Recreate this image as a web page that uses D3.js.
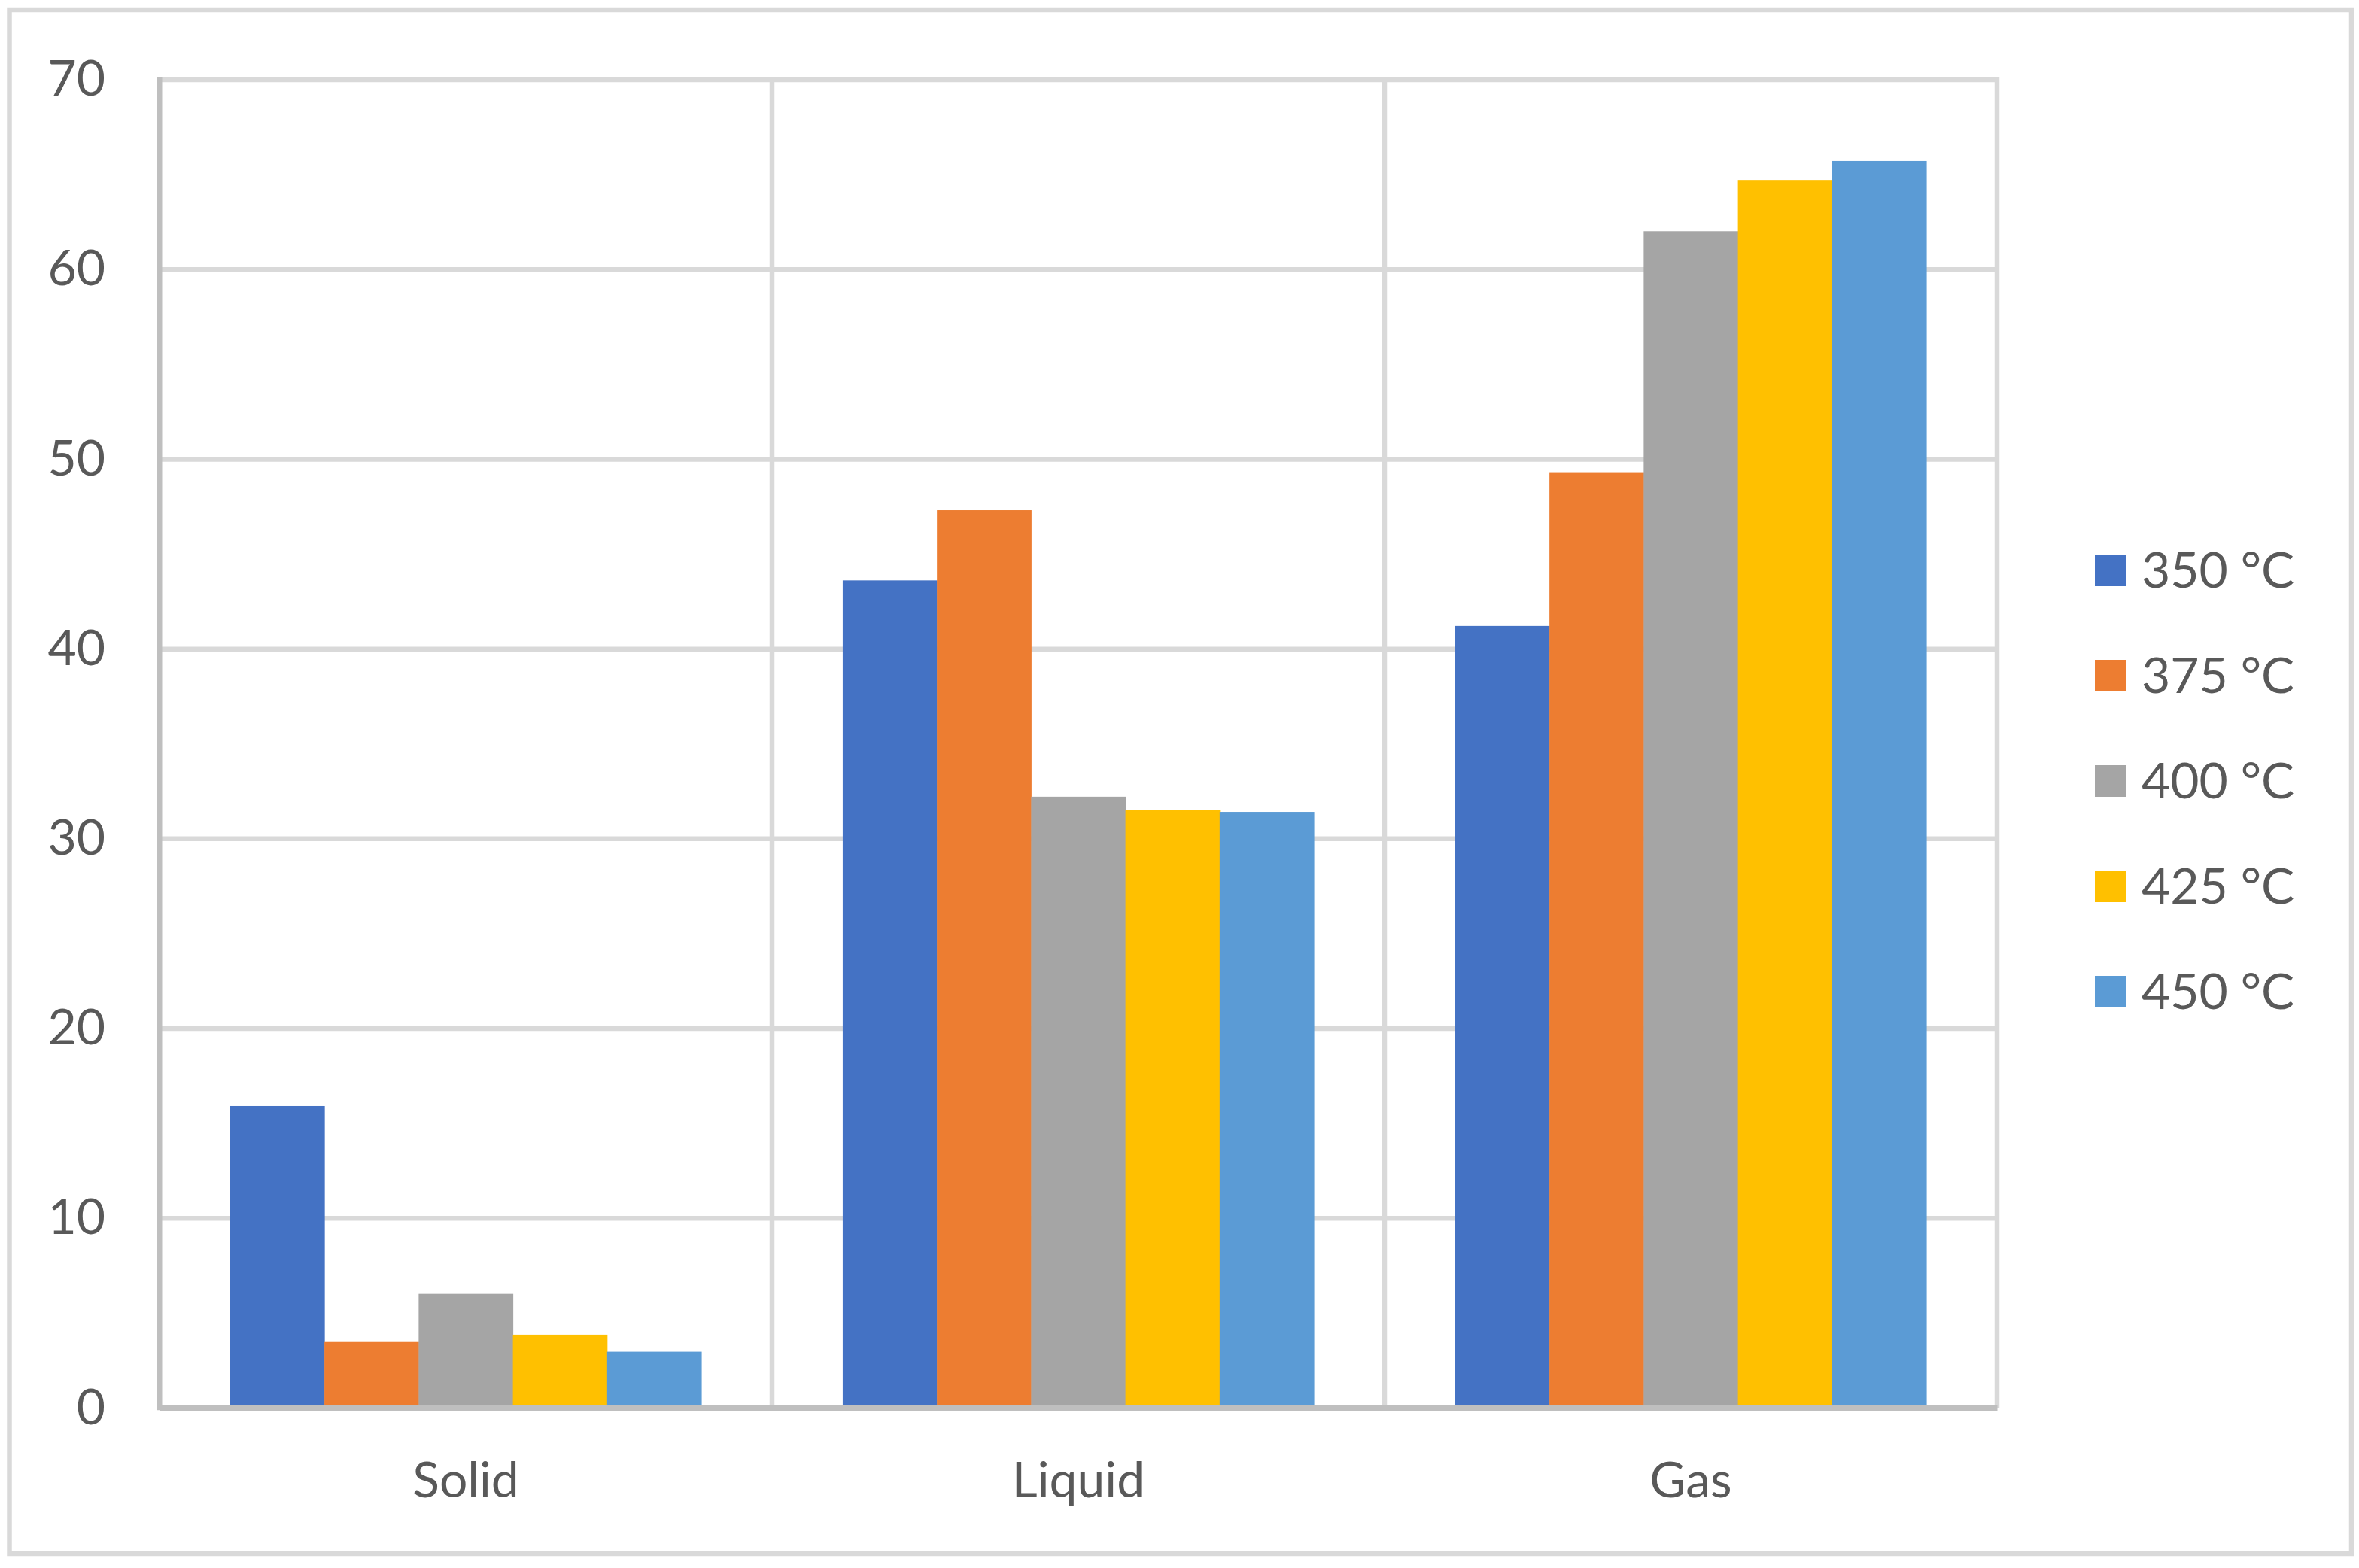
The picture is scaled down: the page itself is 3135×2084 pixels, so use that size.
<!DOCTYPE html>
<html>
<head>
<meta charset="utf-8">
<script src="https://cdn.jsdelivr.net/npm/d3@7"></script>
<style>
  html, body { margin: 0; padding: 0; background: #ffffff; }
  svg { display: block; }
  text { font-family: Lato, "Open Sans", "Noto Sans", sans-serif; fill: #595959; }
</style>
</head>
<body>
<svg id="chart" width="3135" height="2084"></svg>
<script>
// ---- data ----
const categories = ["Solid", "Liquid", "Gas"];
const seriesNames = ["350 °C", "375 °C", "400 °C", "425 °C", "450 °C"];
const seriesColors = ["#4472C4", "#ED7D31", "#A5A5A5", "#FFC000", "#5B9BD5"];
const values350 = [15.9, 43.6, 41.2];
const values375 = [3.5, 47.3, 49.3];
const values400 = [6.0, 32.2, 62.0];
const values425 = [3.85, 31.5, 64.7];
const values450 = [2.95, 31.4, 65.7];
const yTicks = [0, 10, 20, 30, 40, 50, 60, 70];

const seriesValues = [values350, values375, values400, values425, values450];

// ---- layout ----
const W = 3135, H = 2084;
const plot = { left: 212, right: 2654, top: 105.5, bottom: 1871 };
const fontSize = 66;

const svg = d3.select("#chart");

// outer chart border
svg.append("rect")
  .attr("x", 12.5).attr("y", 13)
  .attr("width", 3125 - 12.5).attr("height", 2065 - 13)
  .attr("fill", "#ffffff")
  .attr("stroke", "#d9d9d9").attr("stroke-width", 6.5);

const x0 = d3.scaleBand().domain(categories).range([plot.left, plot.right]).padding(0);
const x1 = d3.scaleBand().domain(seriesNames).range([0, x0.bandwidth()])
  .paddingInner(0).paddingOuter(0.75);
const y = d3.scaleLinear().domain([0, 70]).range([plot.bottom, plot.top]);

// horizontal gridlines
const gAxisY = svg.append("g")
  .attr("transform", `translate(${plot.left},0)`)
  .call(d3.axisLeft(y).tickValues(yTicks).tickSize(-(plot.right - plot.left)).tickPadding(72).tickFormat(d3.format("d")));
gAxisY.select(".domain").remove();
gAxisY.selectAll(".tick line").attr("stroke", "#d9d9d9").attr("stroke-width", 6.5);
gAxisY.selectAll(".tick text")
  .attr("font-size", fontSize)
  .attr("fill", "#595959")
  .attr("font-family", "Lato, 'Open Sans', sans-serif");

// vertical gridlines at category boundaries (right side of each category)
const boundaries = categories.map(c => x0(c) + x0.bandwidth());
svg.append("g").selectAll("line")
  .data(boundaries)
  .join("line")
  .attr("x1", d => d).attr("x2", d => d)
  .attr("y1", plot.top - 3.25).attr("y2", plot.bottom)
  .attr("stroke", "#d9d9d9").attr("stroke-width", 6.5);

// bars
const gBars = svg.append("g");
seriesNames.forEach((s, si) => {
  gBars.append("g")
    .attr("fill", seriesColors[si])
    .selectAll("rect")
    .data(categories.map((c, ci) => ({ c, v: seriesValues[si][ci] })))
    .join("rect")
    .attr("x", d => x0(d.c) + x1(s))
    .attr("width", x1.bandwidth() + 0.5)
    .attr("y", d => y(d.v))
    .attr("height", d => y(0) - y(d.v));
});

// left value axis line
svg.append("line")
  .attr("x1", plot.left).attr("x2", plot.left)
  .attr("y1", plot.top - 3.25).attr("y2", plot.bottom + 3.25)
  .attr("stroke", "#bfbfbf").attr("stroke-width", 7);

// category axis
const gAxisX = svg.append("g")
  .attr("transform", `translate(0,${plot.bottom})`)
  .call(d3.axisBottom(x0).tickSize(0).tickPadding(0));
gAxisX.select(".domain").attr("stroke", "#bfbfbf").attr("stroke-width", 7);
gAxisX.selectAll(".tick text")
  .attr("font-size", fontSize)
  .attr("fill", "#595959")
  .attr("font-family", "Lato, 'Open Sans', sans-serif")
  .attr("dy", null)
  .attr("y", 119);

// legend
const legend = svg.append("g");
const legendRowY = d3.scaleLinear().domain([0, seriesNames.length - 1]).range([758, 1318]);
seriesNames.forEach((s, i) => {
  const cy = legendRowY(i);
  legend.append("rect")
    .attr("x", 2784).attr("y", cy - 21)
    .attr("width", 42).attr("height", 42)
    .attr("fill", seriesColors[i]);
  legend.append("text")
    .attr("x", 2846).attr("y", cy)
    .attr("dy", "0.35em")
    .attr("font-size", fontSize)
    .text(s);
});
</script>
</body>
</html>
